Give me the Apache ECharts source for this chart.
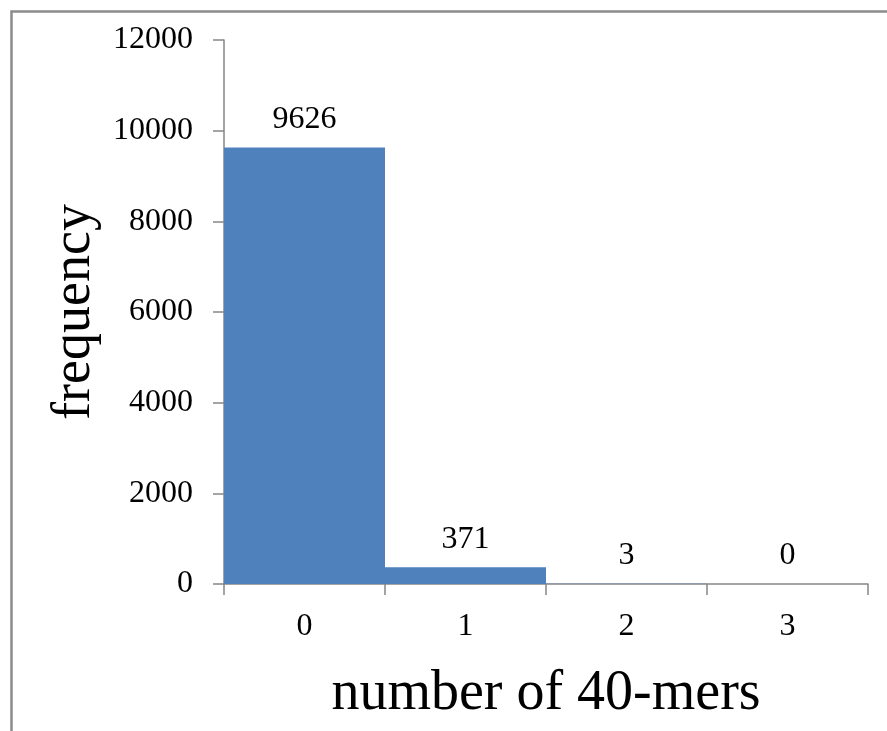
<!DOCTYPE html>
<html>
<head>
<meta charset="utf-8">
<script src="https://cdn.jsdelivr.net/npm/echarts@6/dist/echarts.min.js"></script>
<style>
html,body{margin:0;padding:0;background:#fff;}
#chart{width:887px;height:731px;}
</style>
</head>
<body>
<div id="chart"></div>
<script>
const categories = ['0', '1', '2', '3'];
const frequencies = [9626, 371, 3, 0];
const yTicks = [0, 2000, 4000, 6000, 8000, 10000, 12000];
const xAxisTitle = 'number of 40-mers';
const yAxisTitle = 'frequency';

const FONT = '"Liberation Serif", "DejaVu Serif", serif';
const AXIS_COLOR = '#868686';

const chart = echarts.init(document.getElementById('chart'), null, {renderer: 'canvas'});
chart.setOption({
  animation: false,
  backgroundColor: '#ffffff',
  graphic: [{
    type: 'rect',
    left: 9, top: 9,
    shape: {width: 1000, height: 1000},
    style: {fill: 'none', stroke: '#8c8c8c', lineWidth: 2.5},
    silent: true
  }],
  grid: {left: 224, right: 19, top: 40, bottom: 147, containLabel: false},
  xAxis: {
    type: 'category',
    data: categories,
    name: xAxisTitle,
    nameLocation: 'middle',
    nameGap: 82,
    nameTextStyle: {fontFamily: FONT, fontSize: 56, color: '#000'},
    axisLine: {show: true, lineStyle: {color: AXIS_COLOR, width: 1.5}},
    axisTick: {show: true, alignWithLabel: false, length: 11, lineStyle: {color: AXIS_COLOR, width: 1.5}},
    axisLabel: {fontFamily: FONT, fontSize: 32, color: '#000', margin: 27},
    splitLine: {show: false}
  },
  yAxis: {
    type: 'value',
    min: yTicks[0],
    max: yTicks[yTicks.length - 1],
    interval: yTicks[1] - yTicks[0],
    name: yAxisTitle,
    nameLocation: 'middle',
    nameGap: 116,
    nameRotate: 90,
    nameTextStyle: {fontFamily: FONT, fontSize: 54, color: '#000'},
    axisLine: {show: true, lineStyle: {color: AXIS_COLOR, width: 1.5}},
    axisTick: {show: true, length: 11, lineStyle: {color: AXIS_COLOR, width: 1.5}},
    axisLabel: {fontFamily: FONT, fontSize: 32, color: '#000', margin: 31,
      formatter: function (v) { return String(v); }},
    splitLine: {show: false}
  },
  series: [{
    type: 'bar',
    data: frequencies,
    barCategoryGap: '0%',
    itemStyle: {color: '#4F81BD'},
    label: {
      show: true,
      position: 'top',
      distance: 12,
      fontFamily: FONT,
      fontSize: 32,
      color: '#000'
    }
  }]
});
</script>
</body>
</html>
